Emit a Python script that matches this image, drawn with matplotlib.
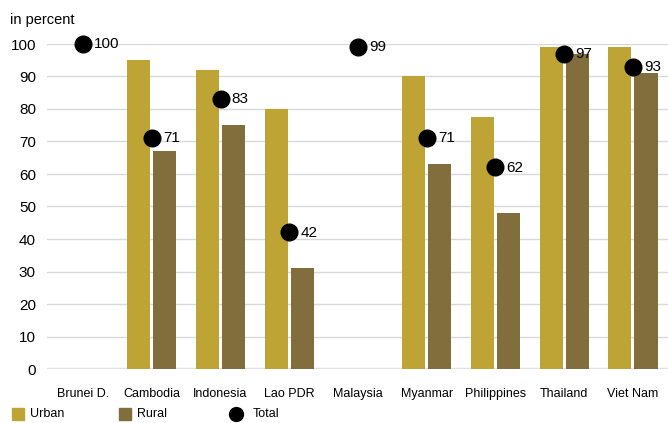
import numpy as np
import matplotlib.pyplot as plt
from matplotlib.patches import Rectangle
from matplotlib.lines import Line2D

countries = ["Brunei D.", "Cambodia", "Indonesia", "Lao PDR", "Malaysia",
             "Myanmar", "Philippines", "Thailand", "Viet Nam"]
urban = [np.nan, 95, 92, 80, np.nan, 90, 77.5, 99, 99]
rural = [np.nan, 67, 75, 31, np.nan, 63, 48, 97, 91]
total = [100, 71, 83, 42, 99, 71, 62, 97, 93]

URBAN_COL = "#bda434"
RURAL_COL = "#826d3d"
plt.rcParams["font.family"] = ["Liberation Sans", "DejaVu Sans"]

fig = plt.figure(figsize=(6.68, 4.23), dpi=100)
ax = fig.add_axes([47 / 668, 1 - 369 / 423, 1 - 47 / 668, (369 - 44) / 423])

x = np.arange(len(countries))
off = 0.19
w = 0.335
ax.bar(x - off, urban, w, color=URBAN_COL, zorder=2)
ax.bar(x + off, rural, w, color=RURAL_COL, zorder=2)
ax.plot(x, total, "o", color="black", markersize=12, zorder=3, clip_on=False)
for xi, t in zip(x, total):
    ax.annotate(f"{t}", (xi, t), xytext=(8, 0), textcoords="offset points",
                va="center", ha="left", fontsize=11, zorder=4)

ax.set_xlim(-0.524, 8.51)
ax.set_ylim(0, 100)
ax.set_yticks(range(0, 101, 10))
ax.set_xticks(x)
ax.set_xticklabels(countries, fontsize=9)
ax.tick_params(axis="x", length=0, pad=14)
ax.tick_params(axis="y", length=0, pad=8, labelsize=11)
ax.grid(axis="y", color="#d9d9d9", linewidth=1, zorder=0)
ax.axhline(0, color="#e3e3e3", linewidth=2.5, zorder=1)
for s in ax.spines.values():
    s.set_visible(False)

fig.text(10 / 668, 1 - 20 / 423, "in percent", fontsize=10.5,
         va="center", ha="left")

# legend along the bottom
ly = 1 - 414 / 423
fig.add_artist(Rectangle((12 / 668, 1 - 420 / 423), 12 / 668, 12 / 423,
                         transform=fig.transFigure, color=URBAN_COL))
fig.text(30 / 668, ly, "Urban", fontsize=9, va="center")
fig.add_artist(Rectangle((119 / 668, 1 - 420 / 423), 12 / 668, 12 / 423,
                         transform=fig.transFigure, color=RURAL_COL))
fig.text(137 / 668, ly, "Rural", fontsize=9, va="center")
fig.add_artist(Line2D([236 / 668], [ly], marker="o", color="black",
                      markersize=10, transform=fig.transFigure))
fig.text(253 / 668, ly, "Total", fontsize=9, va="center")

fig.savefig("out.png", dpi=100)
